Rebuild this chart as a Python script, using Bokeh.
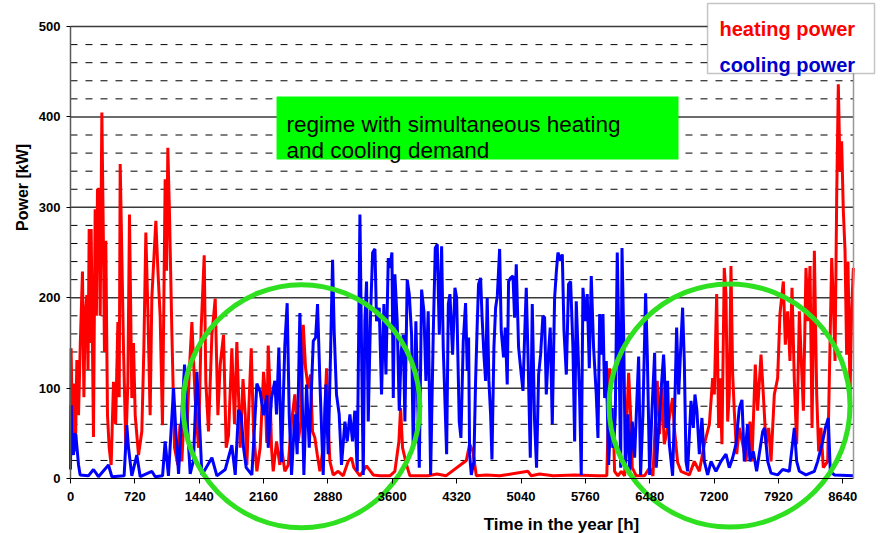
import numpy as np
from bokeh.plotting import figure
from bokeh.models import (Range1d, FixedTicker, Label, BoxAnnotation, LinearAxis, ColumnDataSource)
from bokeh.embed import file_html
from bokeh.resources import INLINE

# ---------------- data ----------------
heat_h = [0, 7, 22, 40, 55, 71, 90, 110, 134, 150, 164, 183, 196, 209, 220, 231, 257, 276, 290, 302,
          321, 332, 351, 369, 380, 395, 414, 433, 455, 481, 505, 530, 545, 556, 574, 593, 619, 642, 660, 686,
          705, 724, 761, 798, 820, 843, 865, 891, 910, 929, 955, 977, 1003, 1029, 1045, 1059, 1075, 1089, 1108, 1134,
          1164, 1201, 1225, 1246, 1275, 1302, 1330, 1358, 1395, 1432, 1462, 1496, 1514, 1544, 1582, 1619, 1649, 1675, 1712, 1742,
          1768, 1805, 1835, 1861, 1899, 1930, 1955, 1973, 2000, 2022, 2048, 2085, 2122, 2160, 2178, 2195, 2212, 2231, 2249, 2268,
          2305, 2342, 2361, 2398, 2436, 2473, 2510, 2548, 2577, 2604, 2630, 2660, 2686, 2708, 2734, 2760, 2790, 2827, 2865, 2883,
          2902, 2939, 2995, 3051, 3107, 3144, 3170, 3238, 3312, 3387, 3461, 3573, 3629, 3674, 3693, 3715, 3760, 3797, 3890, 4000,
          4100, 4200, 4428, 4465, 4502, 4540, 4651, 4800, 5118, 5155, 5248, 5400, 5640, 5900, 6000, 6031, 6050, 6068, 6087, 6124,
          6162, 6199, 6244, 6266, 6285, 6329, 6422, 6478, 6516, 6564, 6590, 6616, 6643, 6680, 6736, 6755, 6792, 6830, 6923, 6979,
          7035, 7091, 7147, 7184, 7203, 7229, 7251, 7266, 7288, 7314, 7333, 7352, 7370, 7389, 7408, 7426, 7453, 7482, 7520, 7557,
          7602, 7624, 7661, 7687, 7725, 7751, 7781, 7811, 7837, 7874, 7911, 7937, 7960, 7975, 7997, 8023, 8049, 8072, 8098, 8124,
          8154, 8176, 8199, 8228, 8251, 8273, 8296, 8322, 8348, 8370, 8396, 8422, 8471, 8497, 8516, 8534, 8553, 8572, 8590, 8609,
          8627, 8646, 8665, 8683, 8698, 8721, 8739, 8758]
heat_kw = [20, 144, 45, 105, 30, 131, 70, 150, 229, 90, 180, 203, 120, 276, 150, 276, 46, 298, 180, 320,
           320, 180, 405, 254, 140, 263, 70, 34, 15, 107, 60, 173, 90, 348, 250, 144, 34, 107, 292, 89,
           150, 70, 26, 52, 140, 272, 188, 70, 200, 236, 285, 232, 180, 59, 200, 331, 230, 366, 291, 162,
           34, 15, 60, 19, 80, 52, 120, 173, 89, 34, 166, 247, 107, 52, 159, 199, 70, 126, 159, 34,
           48, 144, 60, 151, 34, 110, 70, 15, 90, 144, 52, 8, 34, 118, 96, 40, 147, 100, 34, 8,
           41, 15, 34, 8, 15, 63, 93, 41, 63, 170, 122, 100, 115, 52, 45, 27, 8, 34, 122, 63,
           19, 4, 8, 3, 19, 23, 12, 3, 14, 4, 3, 3, 8, 41, 78, 34, 15, 3, 3, 3,
           5, 3, 20, 38, 30, 3, 4, 3, 8, 3, 5, 3, 4, 3, 3, 122, 34, 78, 8, 3,
           8, 3, 117, 71, 12, 3, 3, 12, 3, 108, 49, 100, 38, 56, 89, 56, 18, 8, 4, 19,
           8, 38, 60, 111, 93, 204, 56, 111, 38, 233, 204, 63, 93, 235, 115, 75, 27, 56, 38, 19,
           63, 19, 126, 75, 137, 93, 38, 56, 19, 93, 111, 182, 204, 218, 148, 185, 130, 211, 108, 38,
           185, 130, 75, 233, 174, 235, 56, 252, 93, 30, 56, 12, 19, 148, 244, 196, 130, 314, 436, 340,
           373, 296, 252, 137, 240, 93, 185, 233]

cool_h = [0, 8, 15, 34, 45, 60, 90, 108, 200, 257, 313, 425, 463, 600, 630, 649, 686, 742, 780, 910,
          948, 1030, 1059, 1096, 1153, 1179, 1209, 1276, 1302, 1339, 1376, 1413, 1440, 1470, 1582, 1638, 1731, 1805, 1843, 1880,
          1910, 1936, 1966, 2029, 2085, 2122, 2160, 2197, 2212, 2249, 2286, 2305, 2331, 2361, 2398, 2424, 2447, 2473, 2510, 2536,
          2566, 2588, 2611, 2641, 2671, 2716, 2742, 2764, 2790, 2827, 2857, 2883, 2909, 2932, 2950, 2976, 3006, 3032, 3070, 3096,
          3126, 3155, 3181, 3208, 3238, 3256, 3275, 3293, 3312, 3331, 3357, 3380, 3406, 3424, 3454, 3480, 3506, 3529, 3555, 3573,
          3596, 3611, 3629, 3655, 3678, 3700, 3723, 3741, 3767, 3790, 3816, 3834, 3864, 3902, 3928, 3954, 3976, 4002, 4029, 4058,
          4081, 4103, 4126, 4152, 4170, 4208, 4227, 4245, 4275, 4301, 4320, 4349, 4368, 4394, 4420, 4439, 4454, 4465, 4484, 4513,
          4532, 4550, 4565, 4588, 4603, 4625, 4644, 4662, 4681, 4700, 4715, 4737, 4756, 4775, 4801, 4819, 4845, 4864, 4886, 4901,
          4924, 4950, 4968, 4987, 5013, 5043, 5062, 5080, 5099, 5118, 5144, 5166, 5192, 5214, 5237, 5259, 5285, 5304, 5323, 5341,
          5367, 5390, 5416, 5435, 5453, 5483, 5502, 5521, 5547, 5572, 5595, 5621, 5640, 5658, 5677, 5696, 5714, 5733, 5759, 5781,
          5804, 5826, 5852, 5882, 5901, 5920, 5938, 5957, 5976, 5994, 6020, 6050, 6076, 6095, 6117, 6136, 6155, 6170, 6188, 6207,
          6237, 6255, 6285, 6311, 6330, 6356, 6378, 6404, 6434, 6453, 6479, 6505, 6535, 6553, 6579, 6609, 6635, 6643, 6662, 6680,
          6699, 6736, 6766, 6781, 6804, 6830, 6848, 6867, 6886, 6904, 6942, 6968, 6986, 7008, 7035, 7064, 7091, 7128, 7166, 7221,
          7277, 7333, 7370, 7408, 7445, 7482, 7512, 7538, 7575, 7602, 7639, 7676, 7744, 7766, 7800, 7837, 7911, 7967, 8042, 8098,
          8124, 8154, 8228, 8322, 8359, 8408, 8445, 8478, 8500, 8545, 8760]
cool_kw = [10, 81, 40, 26, 50, 48, 15, 4, 3, 10, 2, 15, 2, 3, 59, 34, 3, 26, 2, 8,
           2, 3, 41, 3, 100, 52, 5, 126, 70, 5, 20, 118, 70, 4, 23, 3, 10, 37, 4, 76,
           70, 34, 12, 4, 105, 96, 70, 92, 34, 89, 108, 71, 145, 18, 148, 194, 71, 4, 71, 27,
           183, 108, 4, 104, 34, 152, 156, 193, 108, 4, 104, 27, 137, 242, 163, 93, 71, 15, 63, 41,
           71, 41, 75, 8, 292, 145, 4, 174, 218, 63, 182, 250, 254, 174, 189, 93, 193, 115, 244, 233,
           250, 89, 226, 174, 75, 141, 159, 63, 220, 204, 159, 34, 174, 12, 209, 185, 108, 185, 4, 159,
           255, 259, 159, 257, 145, 27, 193, 204, 137, 211, 200, 63, 45, 152, 194, 119, 156, 27, 4, 19,
           108, 170, 215, 222, 182, 137, 108, 200, 108, 71, 21, 145, 189, 202, 254, 163, 134, 167, 104, 218,
           222, 224, 178, 237, 145, 115, 97, 156, 211, 137, 23, 193, 63, 12, 115, 137, 180, 178, 93, 130,
           167, 60, 200, 228, 250, 241, 248, 163, 115, 215, 218, 145, 41, 196, 145, 89, 4, 211, 174, 204,
           122, 224, 145, 93, 45, 182, 137, 182, 89, 130, 15, 78, 34, 71, 250, 145, 12, 255, 163, 15,
           71, 4, 63, 23, 71, 135, 4, 71, 205, 137, 4, 75, 139, 12, 52, 100, 137, 122, 56, 108,
           38, 3, 104, 167, 93, 152, 189, 130, 19, 8, 86, 56, 93, 75, 27, 67, 19, 4, 19, 8,
           19, 27, 12, 23, 38, 78, 87, 19, 60, 19, 30, 8, 52, 56, 19, 6, 4, 10, 8, 56,
           19, 8, 4, 8, 19, 38, 56, 67, 8, 4, 3]

x_ticks = [0, 720, 1440, 2160, 2880, 3600, 4320, 5040, 5760, 6480, 7200, 7920, 8640]
y_ticks = [0, 100, 200, 300, 400, 500]
y_minor = [20, 40, 60, 80, 120, 140, 160, 180, 220, 240, 260, 280,
           320, 340, 360, 380, 420, 440, 460, 480]

# highlighted regimes (ellipses): centre hour, centre kW, width h, height kW
reg_cx = [2584, 7373]
reg_cy = [80, 80.8]
reg_w = [2648, 2696]
reg_h = [269, 269]

X_MAX = 8760
Y_MAX = 500
FONT = "Liberation Sans"

p = figure(width=881, height=533, x_range=Range1d(-783, 9073), y_range=Range1d(-60.8, 528.8),
           output_backend="svg", toolbar_location=None, min_border=0,
           x_axis_location=None, y_axis_location=None)
p.background_fill_color = "white"
p.border_fill_color = "white"
p.outline_line_color = None
p.grid.visible = False

# grid lines limited to the data area
p.multi_line(xs=[[0, X_MAX] for _ in y_minor], ys=[[v, v] for v in y_minor],
             line_color="black", line_width=1, line_dash="7 8")
p.multi_line(xs=[[0, X_MAX] for _ in y_ticks[1:]], ys=[[v, v] for v in y_ticks[1:]],
             line_color="#3a3a3a", line_width=1.5)

# axes pinned at the origin
xaxis = LinearAxis(fixed_location=0, bounds=(0, X_MAX), ticker=FixedTicker(ticks=x_ticks))
yaxis = LinearAxis(fixed_location=0, bounds=(0, Y_MAX), ticker=FixedTicker(ticks=y_ticks))
raxis = LinearAxis(fixed_location=X_MAX, bounds=(0, Y_MAX), ticker=FixedTicker(ticks=[]),
                   axis_line_color="#999999", axis_line_width=1.5, major_tick_out=0, major_tick_in=0)
for ax in (xaxis, yaxis):
    ax.major_label_text_font = FONT
    ax.major_label_text_font_style = "bold"
    ax.major_label_text_font_size = "13px"
    ax.major_label_text_color = "black"
    ax.major_tick_in = 0
    ax.minor_tick_in = 0
    ax.minor_tick_out = 0
    ax.major_tick_line_color = "black"
xaxis.major_tick_out = 5
xaxis.major_label_standoff = 8
xaxis.axis_line_color = "black"
yaxis.major_tick_out = 4
yaxis.major_label_standoff = 6
yaxis.axis_line_color = "#5a5a5a"
yaxis.axis_line_width = 1.5
p.add_layout(xaxis, "below")
p.add_layout(yaxis, "left")
p.add_layout(raxis, "right")

# series
heat_src = ColumnDataSource(dict(h=heat_h, kw=heat_kw))
cool_src = ColumnDataSource(dict(h=cool_h, kw=cool_kw))
p.line("h", "kw", source=heat_src, line_color="#ff0000", line_width=3)
p.line("h", "kw", source=cool_src, line_color="#0000ff", line_width=3)

# green ellipses
p.ellipse(x=reg_cx, y=reg_cy, width=reg_w, height=reg_h, fill_alpha=0,
          line_color="#2ee01f", line_width=5)

# green annotation box
p.add_layout(BoxAnnotation(left=2305, right=6802, bottom=352.9, top=422.6,
                           fill_color="#00ff00", fill_alpha=1.0, line_alpha=0))
for yy, txt in [(391.6, "regime with simultaneous heating"), (362.8, "and cooling demand")]:
    p.add_layout(Label(x=2417, y=yy, text=txt, text_font=FONT, text_font_size="22.5px",
                       text_color="black", text_baseline="alphabetic"))

# legend box
p.add_layout(BoxAnnotation(left=7127, right=8995, bottom=448, top=525.4, fill_color="white",
                           fill_alpha=1.0, line_color="#404040", line_width=1.5))
p.add_layout(Label(x=7261, y=497.8, text="heating power", text_font=FONT, text_font_style="bold",
                   text_font_size="20px", text_color="#ff0000", text_baseline="alphabetic"))
p.add_layout(Label(x=7261, y=458, text="cooling power", text_font=FONT, text_font_style="bold",
                   text_font_size="20px", text_color="#0000cc", text_baseline="alphabetic"))

# axis titles
p.add_layout(Label(x=-537, y=322, text="Power [kW]", angle=np.pi / 2, text_align="center",
                   text_baseline="middle", text_font=FONT, text_font_style="bold",
                   text_font_size="16px", text_color="black"))
p.add_layout(Label(x=5493, y=-50.5, text="Time in the year [h]", text_align="center",
                   text_baseline="alphabetic", text_font=FONT, text_font_style="bold",
                   text_font_size="17px", text_color="black"))

open("out.html", "w").write(file_html(p, INLINE))
